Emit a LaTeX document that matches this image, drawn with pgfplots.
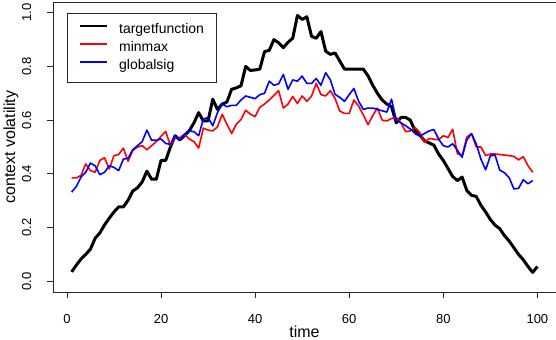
\documentclass[border=0pt]{standalone}
\usepackage{fontspec}
\setmainfont{Liberation Sans}
\usepackage{pgfplots}
\usepackage{pgfplotstable}
\pgfplotsset{compat=1.18}

% time, targetfunction, minmax, globalsig
\pgfplotstableread{
t black red blue
1 0.035 0.385 0.332
2 0.060 0.385 0.353
3 0.083 0.394 0.388
4 0.100 0.437 0.406
5 0.120 0.412 0.440
6 0.160 0.406 0.430
7 0.180 0.450 0.397
8 0.210 0.460 0.406
9 0.235 0.418 0.430
10 0.258 0.468 0.424
11 0.277 0.472 0.412
12 0.277 0.496 0.455
13 0.302 0.447 0.458
14 0.336 0.487 0.490
15 0.348 0.500 0.505
16 0.370 0.505 0.520
17 0.410 0.490 0.563
18 0.380 0.505 0.525
19 0.380 0.520 0.525
20 0.450 0.540 0.530
21 0.450 0.558 0.513
22 0.500 0.505 0.510
23 0.542 0.535 0.542
24 0.526 0.535 0.526
25 0.543 0.548 0.548
26 0.560 0.530 0.560
27 0.590 0.520 0.557
28 0.628 0.496 0.542
29 0.597 0.570 0.604
30 0.597 0.563 0.610
31 0.678 0.560 0.579
32 0.640 0.575 0.628
33 0.660 0.622 0.660
34 0.667 0.585 0.650
35 0.715 0.550 0.655
36 0.720 0.585 0.655
37 0.728 0.602 0.675
38 0.800 0.637 0.690
39 0.785 0.622 0.685
40 0.787 0.613 0.680
41 0.790 0.648 0.695
42 0.855 0.660 0.700
43 0.860 0.675 0.745
44 0.900 0.692 0.730
45 0.888 0.710 0.735
46 0.870 0.645 0.770
47 0.890 0.660 0.715
48 0.905 0.688 0.750
49 0.990 0.662 0.745
50 0.975 0.690 0.764
51 0.985 0.670 0.737
52 0.912 0.690 0.737
53 0.905 0.737 0.755
54 0.930 0.695 0.730
55 0.857 0.690 0.777
56 0.845 0.710 0.750
57 0.850 0.680 0.696
58 0.820 0.634 0.685
59 0.790 0.625 0.670
60 0.790 0.625 0.695
61 0.790 0.675 0.718
62 0.790 0.652 0.670
63 0.790 0.620 0.640
64 0.765 0.583 0.645
65 0.730 0.617 0.645
66 0.700 0.645 0.640
67 0.675 0.600 0.635
68 0.660 0.597 0.630
69 0.650 0.606 0.678
70 0.590 0.610 0.600
71 0.610 0.590 0.590
72 0.610 0.557 0.579
73 0.600 0.560 0.567
74 0.560 0.573 0.550
75 0.545 0.554 0.540
76 0.523 0.517 0.550
77 0.515 0.532 0.560
78 0.507 0.529 0.565
79 0.474 0.527 0.530
80 0.450 0.542 0.505
81 0.420 0.535 0.500
82 0.390 0.566 0.512
83 0.375 0.475 0.488
84 0.388 0.468 0.462
85 0.338 0.537 0.526
86 0.320 0.550 0.550
87 0.316 0.500 0.512
88 0.283 0.500 0.455
89 0.258 0.468 0.415
90 0.230 0.474 0.467
91 0.209 0.474 0.470
92 0.196 0.472 0.414
93 0.170 0.470 0.404
94 0.150 0.468 0.386
95 0.125 0.465 0.344
96 0.100 0.452 0.346
97 0.080 0.464 0.378
98 0.055 0.431 0.363
99 0.033 0.406 0.375
100 0.055 nan nan
}\volat

\begin{document}
\begin{tikzpicture}
\useasboundingbox (-53bp,-48bp) rectangle (503bp,292bp);
\begin{axis}[
  at={(0,0)}, anchor=south west,
  scale only axis, width=503bp, height=290bp,
  xmin=-2.96, xmax=103.96, ymin=-0.04, ymax=1.04,
  axis line style={black!85, line width=0.8bp},
  tick align=outside, xtick pos=left, ytick pos=left,
  major tick length=6bp,
  tick style={black!85, line width=0.8bp},
  xtick={0,20,...,100}, ytick={0,0.2,0.4,0.6,0.8,1.0},
  /pgf/number format/assume math mode=true,
  tick label style={font=\fontsize{13bp}{15bp}\selectfont},
  xticklabel style={anchor=base, inner sep=0pt, yshift=-25.5bp},
  yticklabel style={/pgf/number format/.cd, fixed, fixed zerofill, precision=1, /tikz/.cd,
    xshift=-16bp, rotate=90, anchor=base, inner sep=0pt},
  xlabel={time},
  xlabel style={at={(axis description cs:0.5,0)}, anchor=base, yshift=-45bp,
    inner sep=0pt, font=\fontsize{16bp}{19bp}\selectfont},
  ylabel={context volatility},
  ylabel style={at={(axis description cs:-0.0755,0.5)}, anchor=base, rotate=0,
    inner sep=0pt, font=\fontsize{16bp}{19bp}\selectfont},
  legend style={at={(axis cs:0,1)}, anchor=north west, draw=black!85, line width=0.8bp,
    inner xsep=12bp, inner ysep=10bp, row sep=5bp,
    font=\fontsize{14bp}{16bp}\selectfont,
    nodes={inner sep=0pt, text height=10bp, text depth=3bp},
    /tikz/every odd column/.append style={column sep=11bp}},
  legend cell align=left,
  legend image code/.code={\draw[#1, line width=1.8bp] (0bp,4bp) -- (27bp,4bp);},
]
\addplot[black, line width=3bp, line join=round] table[x=t, y=black] {\volat};
\addlegendentry{targetfunction}
\addplot[red, line width=1.6bp, line join=round] table[x=t, y=red] {\volat};
\addlegendentry{minmax}
\addplot[blue, line width=1.6bp, line join=round] table[x=t, y=blue] {\volat};
\addlegendentry{globalsig}
\end{axis}
\end{tikzpicture}
\end{document}
